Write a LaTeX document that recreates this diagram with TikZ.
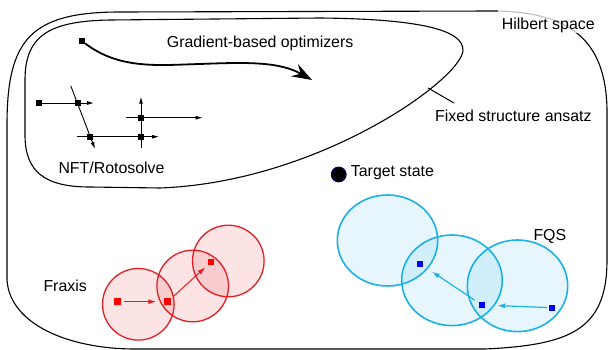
\documentclass[tikz,border=0pt]{standalone}
\usepackage{fontspec}
\setmainfont{Liberation Sans}
\usepackage{xcolor}
\usetikzlibrary{arrows.meta}
\definecolor{fxred}{RGB}{227,30,36}
\definecolor{fqcyan}{RGB}{28,176,232}

\begin{document}
\begin{tikzpicture}[
  x=1pt, y=-1pt,
  font=\fontsize{15.9}{18}\selectfont,
  lbl/.style={anchor=base west, inner sep=0pt},
  blk/.style={fill=black, inner sep=0pt, minimum size=6pt},
  rsq/.style={fill=red, inner sep=0pt, minimum size=6.5pt},
  bsq/.style={fill=blue, inner sep=0pt, minimum size=6pt},
  bound/.style={line width=1.1pt},
  grad/.style={-{Stealth[length=20pt, width=14pt, inset=7pt]}, line width=1.8pt},
  nft/.style={-{Latex[length=7pt, width=4pt]}, line width=0.9pt},
  frxc/.style={draw=fxred, line width=1.3pt, fill=fxred, fill opacity=0.12},
  fqsc/.style={draw=fqcyan, line width=1.6pt, fill=fqcyan, fill opacity=0.11},
  frxar/.style={-{Latex[length=8pt, width=5pt]}, fxred, line width=1pt},
  fqsar/.style={-{Latex[length=8pt, width=5pt]}, fqcyan, line width=1.2pt}
]
\useasboundingbox (0,0) rectangle (608,350);

% Hilbert space and ansatz
\draw[bound] (7,280) -- (7,125) .. controls (7,40) and (30,12) .. (120,12) -- (495,11)
  .. controls (570,12) and (606,40) .. (607,110) -- (607,260)
  .. controls (607,330) and (570,345) .. (485,349) -- (135,349)
  .. controls (70,349) and (10,325) .. (7,280) -- cycle;
\draw[bound] (25,135) -- (25,80) .. controls (25,35) and (50,21) .. (110,20) -- (320,18)
  .. controls (420,19) and (463,30) .. (463,50)
  .. controls (463,78) and (320,182) .. (160,188) -- (90,187)
  .. controls (45,187) and (25,172) .. (25,135) -- cycle;
\coordinate (tk0) at (428,88);
\coordinate (tk1) at (454,103);
\draw[line width=1pt] (tk0) -- (tk1);

\node[lbl, fill=white, fill opacity=0.75, text opacity=1, inner xsep=4pt, text height=21pt] (hilb) at (497.7,30) {Hilbert space};
\node[lbl] (ansatz) at (435,121.7) {Fixed structure ansatz};
\node[lbl] (gradlbl) at (166.7,47.3) {Gradient-based optimizers};
\node[lbl] (nftlbl) at (58.3,174) {NFT/Rotosolve};
\node[lbl] (target) at (350.7,176.7) {Target state};
\node[lbl] (fraxislbl) at (43.3,291.7) {Fraxis};
\node[lbl] (fqslbl) at (533.3,240) {FQS};

% gradient path
\node[blk] (g0) at (82,41) {};
\coordinate (g1) at (312,80);
\draw[grad] (g0) .. controls (120,70) and (160,65) .. (200,64) .. controls (250,62) and (280,62) .. (g1);

% NFT/Rotosolve steps
\node[blk] (n1) at (39,103) {};
\node[blk] (n2) at (77.7,103) {};
\node[blk] (n3) at (90,136.7) {};
\node[blk] (n4) at (141,136.7) {};
\node[blk] (n5) at (141,117.7) {};
\coordinate (e1) at (94,103);
\coordinate (d0) at (70.7,85.7);
\coordinate (e2) at (95,149);
\coordinate (h0) at (77,136.7);
\coordinate (e3) at (159,136.7);
\coordinate (v0) at (141,147.7);
\coordinate (e4) at (141,96.7);
\coordinate (h1) at (126,117.7);
\coordinate (e5) at (202.7,117.7);
\draw[nft] (n1) -- (e1);
\draw[nft] (d0) -- (e2);
\draw[nft] (h0) -- (e3);
\draw[nft] (v0) -- (e4);
\draw[nft] (h1) -- (e5);

% target
\node[circle, fill=black, draw=blue!45!black, line width=0.8pt, minimum size=15pt, inner sep=0pt] (tdot) at (338.7,174.5) {};

% Fraxis
\filldraw[frxc] (138.3,304.3) circle[radius=35.8];
\filldraw[frxc] (192.7,286) circle[radius=35.8];
\filldraw[frxc] (228.3,261) circle[radius=35.8];
\node[rsq] (r1) at (117.7,301.7) {};
\node[rsq] (r2) at (167.7,301.7) {};
\node[rsq] (r3) at (211,262) {};
\draw[frxar, shorten <=3pt, shorten >=8pt] (r1) -- (r2);
\draw[frxar, shorten <=3pt, shorten >=3pt] (r2) -- (r3);

% FQS
\filldraw[fqsc] (387.5,240.5) ellipse[x radius=50.2, y radius=45.5];
\filldraw[fqsc] (452,280.3) ellipse[x radius=50.3, y radius=45.3];
\filldraw[fqsc] (517.5,285.8) ellipse[x radius=50.2, y radius=45.8];
\node[bsq] (b1) at (420,263.7) {};
\node[bsq] (b2) at (482,305) {};
\node[bsq] (b3) at (552,307.7) {};
\draw[fqsar, shorten <=2pt, shorten >=12pt] (b3) -- (b2);
\draw[fqsar, shorten <=5pt, shorten >=10.5pt] (b2) -- (b1);

\end{tikzpicture}
\end{document}
